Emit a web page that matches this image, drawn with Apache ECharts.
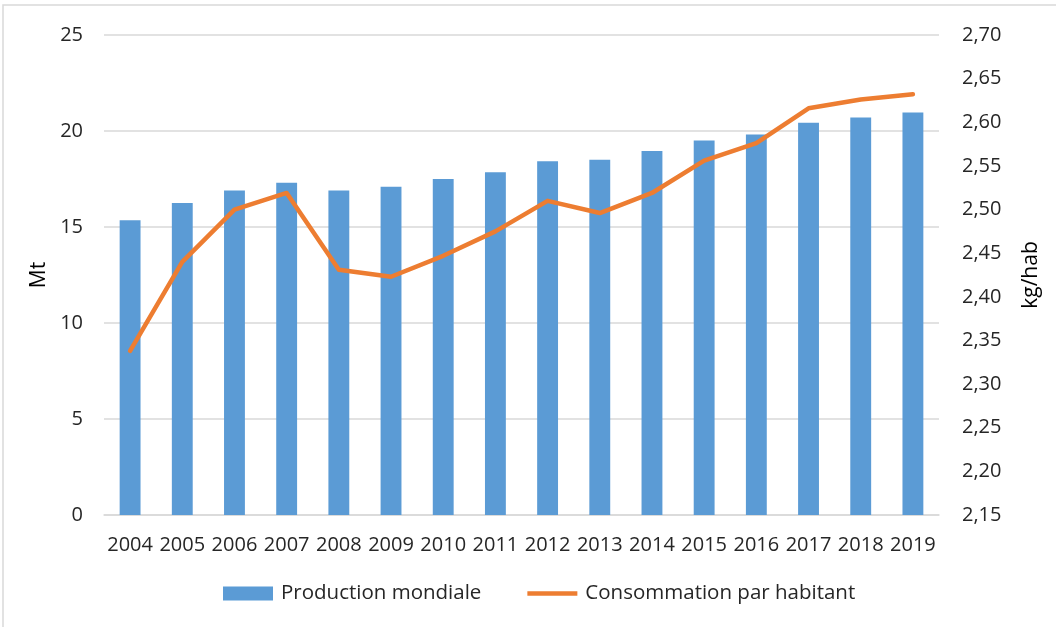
<!DOCTYPE html>
<html>
<head>
<meta charset="utf-8">
<script src="https://cdn.jsdelivr.net/npm/echarts@6/dist/echarts.min.js"></script>
<style>
  html, body { margin: 0; padding: 0; background: #fff; }
  #chart { width: 1056px; height: 627px; }
</style>
</head>
<body>
<div id="chart"></div>
<script>
// Years on the category axis
const years = ['2004', '2005', '2006', '2007', '2008', '2009', '2010', '2011',
               '2012', '2013', '2014', '2015', '2016', '2017', '2018', '2019'];

// World production (Mt), left axis
const production = [15.35, 16.25, 16.9, 17.3, 16.9, 17.1, 17.5, 17.85,
                    18.42, 18.5, 18.96, 19.5, 19.82, 20.43, 20.7, 20.97];

// Consumption per inhabitant (kg/hab), right axis
const consumption = [2.338, 2.440, 2.500, 2.519, 2.431, 2.423, 2.447, 2.475,
                     2.510, 2.496, 2.519, 2.556, 2.576, 2.616, 2.626, 2.632];

const seriesNames = ['Production mondiale', 'Consommation par habitant'];
const axisNames = ['Mt', 'kg/hab'];

const font = 'Open Sans';
const textColor = '#262626';
const gridColor = '#D9D9D9';

const chart = echarts.init(document.getElementById('chart'), null, { renderer: 'canvas' });

chart.setOption({
  backgroundColor: '#ffffff',
  animation: false,
  graphic: [{
    type: 'rect',
    shape: { x: 3, y: 5, width: 1200, height: 800 },
    style: { fill: 'none', stroke: '#D9D9D9', lineWidth: 1.5 },
    silent: true,
    z: -1
  }],
  grid: { left: 104, right: 117, top: 35, bottom: 112 },
  legend: {
    top: 578,
    left: 218,
    itemGap: 46,
    itemWidth: 50,
    itemHeight: 14,
    textStyle: { fontFamily: font, fontSize: 20.5, color: textColor, padding: [0, 0, 0, 3] },
    data: [
      { name: seriesNames[0], icon: 'rect' },
      { name: seriesNames[1], icon: 'path://M0,0 L50,0 L50,4.5 L0,4.5 Z' }
    ]
  },
  xAxis: {
    type: 'category',
    data: years,
    axisLine: { show: true, lineStyle: { color: gridColor, width: 1.5 } },
    axisTick: { show: false },
    axisLabel: {
      fontFamily: font, fontSize: 20, color: textColor, margin: 20, interval: 0
    }
  },
  yAxis: [
    {
      type: 'value',
      min: 0, max: 25, interval: 5,
      name: axisNames[0],
      nameLocation: 'middle',
      nameGap: 54,
      nameRotate: 90,
      nameTextStyle: { fontFamily: font, fontSize: 21, color: '#000' },
      axisLine: { show: false },
      axisTick: { show: false },
      axisLabel: { fontFamily: font, fontSize: 20, color: textColor, margin: 21 },
      splitLine: { show: true, lineStyle: { color: gridColor, width: 1.5 } }
    },
    {
      type: 'value',
      min: 2.15, max: 2.70, interval: 0.05,
      name: axisNames[1],
      nameLocation: 'middle',
      nameGap: 82,
      nameRotate: 90,
      nameTextStyle: { fontFamily: font, fontSize: 21, color: '#000' },
      axisLine: { show: false },
      axisTick: { show: false },
      axisLabel: {
        fontFamily: font, fontSize: 20, color: textColor, margin: 23,
        formatter: v => v.toFixed(2).replace('.', ',')
      },
      splitLine: { show: false }
    }
  ],
  series: [
    {
      name: seriesNames[0],
      type: 'bar',
      yAxisIndex: 0,
      data: production,
      barWidth: '40%',
      itemStyle: { color: '#5B9BD5' }
    },
    {
      name: seriesNames[1],
      type: 'line',
      yAxisIndex: 1,
      data: consumption,
      symbol: 'none',
      lineStyle: { color: '#ED7D31', width: 4.5, cap: 'round', join: 'round' },
      itemStyle: { color: '#ED7D31' },
      z: 3
    }
  ]
});
</script>
</body>
</html>
